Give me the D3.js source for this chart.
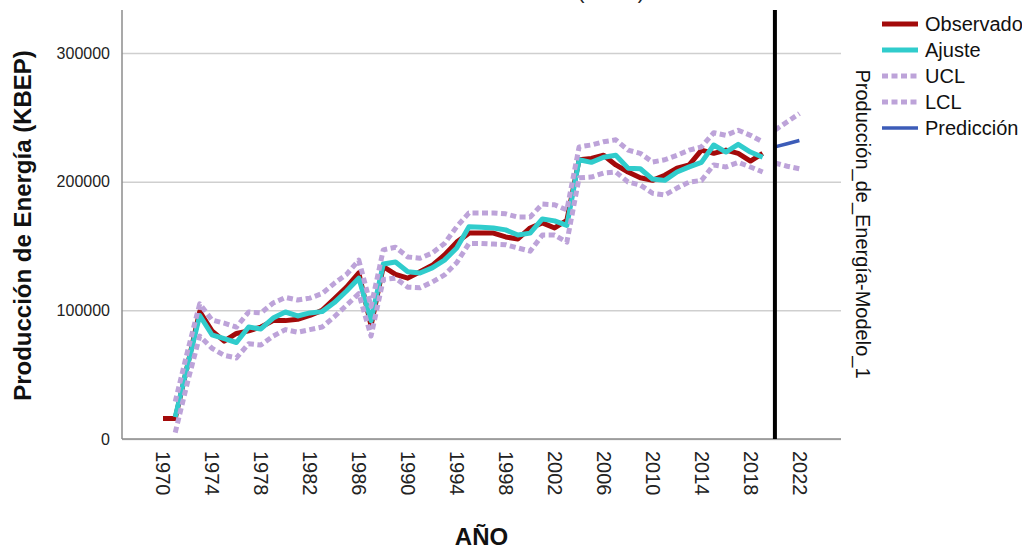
<!DOCTYPE html>
<html>
<head>
<meta charset="utf-8">
<script src="https://cdn.jsdelivr.net/npm/d3@7"></script>
<style>
  body { margin: 0; background: #fff; }
  svg { display: block; }
  text { font-family: "Liberation Sans", Arial, Helvetica, sans-serif; }
</style>
</head>
<body>
<svg id="chart" width="1022" height="549"></svg>
<script>
// Annual energy production (KBEP), 1970–2019, with model fit and control limits
const years = d3.range(1970, 2020);
const observed = [
  16000, 16000, 57000, 99000, 84000, 76000, 82000, 84000, 87000, 92000,
  92000, 93000, 96000, 100000, 109000, 118000, 129000, 88000, 134000, 128000,
  125000, 130000, 135000, 143000, 153000, 160000, 160000, 160000, 157000, 155500,
  164000, 168000, 164000, 170000, 217000, 218000, 220500, 213000, 207500, 203000,
  201000, 205000, 210500, 213000, 224500, 222000, 224500, 222000, 216000, 222000
];
const fitted = [
  null, 17000, 57000, 96000, 81000, 78000, 75000, 87000, 85500, 94000,
  98700, 95600, 98000, 99000, 106000, 115000, 125000, 92000, 136000, 137500,
  130000, 129000, 133000, 139000, 148500, 165000, 164500, 164000, 162500, 158500,
  160000, 171000, 169500, 166000, 217000, 215000, 219000, 220500, 210500, 210000,
  202000, 201000, 207500, 211500, 215000, 228500, 223000, 229000, 223000, 219000
];
const upperCL = [
  null, 29000, 68000, 105000, 92500, 90000, 87000, 98700, 98000, 105700,
  110000, 108000, 109500, 113000, 121000, 128000, 139000, 103000, 147000, 149000,
  141500, 140500, 144500, 152000, 165000, 175700, 175700, 175700, 175000, 172500,
  172500, 182600, 182000, 178000, 227000, 228500, 231000, 232500, 224500, 222000,
  215300, 217000, 220500, 224500, 227000, 238000, 236000, 240000, 236000, 231000
];
const lowerCL = [
  null, 5000, 44000, 80000, 70500, 65000, 63000, 74000, 73000, 80000,
  85000, 83000, 85000, 87000, 95000, 104000, 113000, 80000, 124000, 125000,
  118000, 117500, 122000, 127500, 137000, 152000, 152000, 151500, 151000, 148500,
  146000, 158500, 158500, 153000, 203000, 203600, 206700, 207500, 199700, 197400,
  191000, 189600, 195000, 199700, 201000, 213000, 211400, 215000, 211400, 207500
];

// Forecast horizon
const forecastYears = [2020, 2021, 2022];
const predicted = [227000, 229500, 232000];
const predUpper = [240000, 246500, 253000];
const predLower = [214500, 212000, 210000];
const forecastStart = 2020;

const xTicks = [1970, 1974, 1978, 1982, 1986, 1990, 1994, 1998, 2002, 2006, 2010, 2014, 2018, 2022];
const yTicks = [0, 100000, 200000, 300000];

const seriesNames = ["Observado", "Ajuste", "UCL", "LCL", "Predicción"];
const colors = {
  observed: "#a30a0a",
  fit: "#30cccc",
  limits: "#bda3d9",
  forecast: "#3c5cb8"
};

const svg = d3.select("#chart");
const plot = { left: 122, right: 841, top: 10, bottom: 439 };

const x = d3.scaleLinear().domain([1966.65, 2025.4]).range([plot.left, plot.right]);
const y = d3.scaleLinear().domain([0, 333400]).range([plot.bottom, plot.top]);

// Horizontal grid + value labels
const yAxis = svg.append("g")
  .attr("transform", `translate(${plot.left},0)`)
  .call(d3.axisLeft(y).tickValues(yTicks).tickSize(-(plot.right - plot.left))
    .tickPadding(12).tickFormat(d3.format("d")));
yAxis.select(".domain").remove();
yAxis.selectAll(".tick line").attr("stroke", "#cfcfcf").attr("stroke-width", 1.5);
yAxis.selectAll(".tick text").attr("font-size", 16).attr("fill", "#222");

// Axis lines
svg.append("line").attr("x1", plot.left).attr("x2", plot.left)
  .attr("y1", plot.top).attr("y2", plot.bottom).attr("stroke", "#8c8c8c").attr("stroke-width", 1.5);
svg.append("line").attr("x1", plot.left).attr("x2", plot.right)
  .attr("y1", plot.bottom).attr("y2", plot.bottom).attr("stroke", "#8c8c8c").attr("stroke-width", 1.5);

// Year labels, rotated to read downward
const xAxis = svg.append("g")
  .attr("transform", `translate(0,${plot.bottom})`)
  .call(d3.axisBottom(x).tickValues(xTicks).tickSize(0).tickFormat(d3.format("d")));
xAxis.select(".domain").remove();
xAxis.selectAll(".tick text")
  .attr("transform", "rotate(90)")
  .attr("x", 12).attr("y", 0).attr("dy", "0.35em")
  .attr("text-anchor", "start")
  .attr("font-size", 20).attr("fill", "#222");

// Series
const line = (xs, ys) => d3.line()
  .defined(i => ys[i] != null)
  .x(i => x(xs[i])).y(i => y(ys[i]))(d3.range(xs.length));

const g = svg.append("g").attr("fill", "none").attr("stroke-linejoin", "round");

g.append("path").attr("d", line(years, observed))
  .attr("stroke", colors.observed).attr("stroke-width", 5);
g.append("path").attr("d", line(years, fitted))
  .attr("stroke", colors.fit).attr("stroke-width", 5);
[upperCL, lowerCL].forEach(s => {
  g.append("path").attr("d", line(years, s))
    .attr("stroke", colors.limits).attr("stroke-width", 5)
    .attr("stroke-dasharray", "6,3.5");
});
[predUpper, predLower].forEach(s => {
  g.append("path").attr("d", line(forecastYears, s))
    .attr("stroke", colors.limits).attr("stroke-width", 5)
    .attr("stroke-dasharray", "6,3.5");
});
g.append("path").attr("d", line(forecastYears, predicted))
  .attr("stroke", colors.forecast).attr("stroke-width", 3.5);

// Forecast origin marker
svg.append("line")
  .attr("x1", x(forecastStart)).attr("x2", x(forecastStart))
  .attr("y1", plot.top).attr("y2", plot.bottom)
  .attr("stroke", "#000").attr("stroke-width", 4);

// Titles (the chart title sits above the visible area; only its lowest strokes show)
svg.append("text").attr("x", 611).attr("y", -1).attr("text-anchor", "middle")
  .attr("font-size", 20).attr("fill", "#222").text("(KBEP)");

svg.append("text")
  .attr("transform", `translate(31,${(plot.top + plot.bottom) / 2 + 1}) rotate(-90)`)
  .attr("text-anchor", "middle").attr("font-size", 24).attr("font-weight", "bold")
  .attr("fill", "#111").text("Producción de Energía (KBEP)");

svg.append("text").attr("x", (plot.left + plot.right) / 2).attr("y", 545)
  .attr("text-anchor", "middle").attr("font-size", 24).attr("font-weight", "bold")
  .attr("fill", "#111").text("AÑO");

svg.append("text")
  .attr("transform", "translate(856,224) rotate(90)")
  .attr("text-anchor", "middle").attr("font-size", 20).attr("fill", "#111")
  .text("Producción_de_Energía-Modelo_1");

// Legend
const legend = svg.append("g").attr("transform", "translate(882,24)");
const legendStyles = [
  { stroke: colors.observed, width: 5, dash: null },
  { stroke: colors.fit, width: 5, dash: null },
  { stroke: colors.limits, width: 5, dash: "6,3.5" },
  { stroke: colors.limits, width: 5, dash: "6,3.5" },
  { stroke: colors.forecast, width: 3.5, dash: null }
];
seriesNames.forEach((name, i) => {
  const row = legend.append("g").attr("transform", `translate(0,${i * 26})`);
  row.append("line").attr("x1", 0).attr("x2", 36).attr("y1", 0).attr("y2", 0)
    .attr("stroke", legendStyles[i].stroke).attr("stroke-width", legendStyles[i].width)
    .attr("stroke-dasharray", legendStyles[i].dash);
  row.append("text").attr("x", 43).attr("y", 0).attr("dy", "0.35em")
    .attr("font-size", 20).attr("fill", "#111").text(name);
});
</script>
</body>
</html>
